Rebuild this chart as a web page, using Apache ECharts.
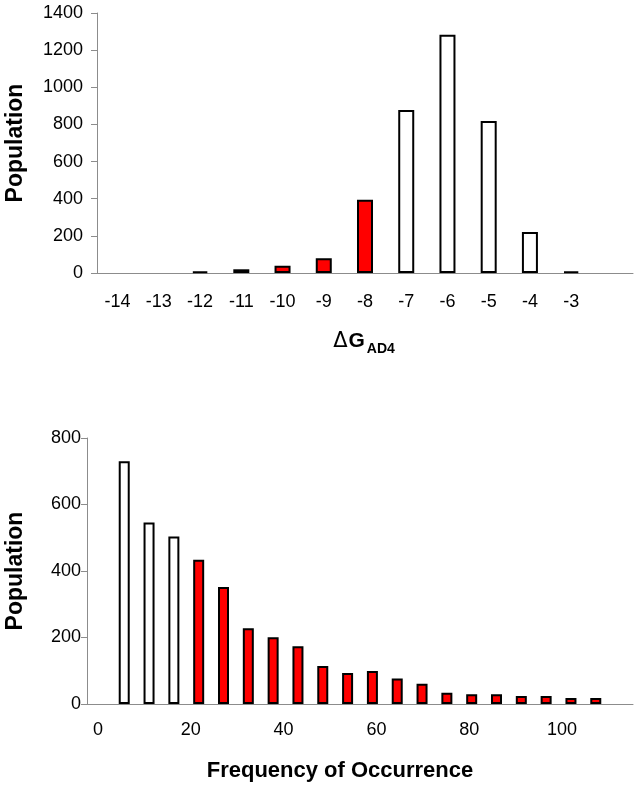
<!DOCTYPE html>
<html>
<head>
<meta charset="utf-8">
<script src="https://cdn.jsdelivr.net/npm/echarts@6/dist/echarts.min.js"></script>
<style>
  html, body { margin: 0; padding: 0; background: #fff; }
  #chart { width: 639px; height: 789px; }
</style>
</head>
<body>
<div id="chart"></div>
<script>
  // top panel: binding energy histogram
  var dgBins = ["-14", "-13", "-12", "-11", "-10", "-9", "-8", "-7", "-6", "-5", "-4", "-3", ""];
  var dgPop = [0, 0, 8, 20, 39, 79, 395, 878, 1283, 818, 221, 9, null];
  var dgTicks = [0, 1400, 200];

  // bottom panel: frequency of occurrence
  var freqBins = [5, 10, 15, 20, 25, 30, 35, 40, 45, 50, 55, 60, 65, 70, 75, 80, 85, 90, 95, 100];
  var freqPop = [730, 546, 504, 434, 352, 228, 201, 174, 114, 93, 99, 77, 61, 34, 29, 29, 24, 24, 18, 18];
  var freqTicks = [0, 800, 200];
  var freqLabels = [0, 100, 20];

  var FONT = "Liberation Sans, Arial, sans-serif";
  var GREY = "#8c8c8c";

  function barItem(v, red) {
    if (!v) return "-"; // empty bins draw nothing
    return {
      value: v,
      itemStyle: { color: red ? "#ff0000" : "#ffffff", borderColor: "#000", borderWidth: 2 }
    };
  }

  var topData = dgPop.map(function (v, i) {
    return barItem(v, dgBins[i] !== "" && Number(dgBins[i]) <= -8);
  });

  // empty category at each end of the frequency axis
  var freqCats = [""].concat(freqBins.map(String), [""]);
  var freqData = ["-"].concat(freqBins.map(function (b, i) {
    return barItem(freqPop[i], b >= 20);
  }), ["-"]);

  var plain = function (v) { return String(v); };

  var chart = echarts.init(document.getElementById("chart"));
  chart.setOption({
    animation: false,
    textStyle: { fontFamily: FONT },
    grid: [
      { left: 97, right: 6, top: 13, height: 260, outerBoundsMode: "none" },
      { left: 87, right: 6, top: 438, height: 266, outerBoundsMode: "none" },
      { left: 98, width: 464, top: 438, height: 266, outerBoundsMode: "none" }
    ],
    xAxis: [
      {
        gridIndex: 0, type: "category", data: dgBins,
        axisLine: { lineStyle: { color: GREY, width: 1 } },
        axisTick: { interval: 0, length: 6, lineStyle: { color: GREY } },
        axisLabel: { interval: 0, color: "#000", fontSize: 18, margin: 20, fontFamily: FONT },
        name: "{d|\u0394}{g|G}{s|AD4}",
        nameLocation: "middle",
        nameGap: 58,
        nameTextStyle: {
          padding: [0, 2, 0, 0],
          rich: {
            d: { fontSize: 21, fontFamily: "DejaVu Sans", color: "#000", padding: [0, 1, 4, 0], verticalAlign: "bottom" },
            g: { fontSize: 21, fontWeight: "bold", fontFamily: FONT, color: "#000", padding: [0, 2, 4, 0], verticalAlign: "bottom" },
            s: { fontSize: 14, fontWeight: "bold", fontFamily: FONT, color: "#000", verticalAlign: "bottom" }
          }
        }
      },
      {
        gridIndex: 1, type: "category", data: freqCats,
        axisLine: { lineStyle: { color: GREY, width: 1 } },
        axisTick: { interval: 0, length: 6, lineStyle: { color: GREY } },
        axisLabel: { show: false },
        name: "Frequency of Occurrence",
        nameLocation: "middle",
        nameGap: 56,
        nameTextStyle: { fontSize: 22, fontWeight: "bold", color: "#000", fontFamily: FONT, padding: [0, 40, 0, 0] }
      },
      {
        gridIndex: 2, type: "value",
        min: freqLabels[0], max: freqLabels[1], interval: freqLabels[2],
        axisLine: { show: false }, axisTick: { show: false }, splitLine: { show: false },
        axisLabel: { color: "#000", fontSize: 18, margin: 17, fontFamily: FONT, formatter: plain }
      }
    ],
    yAxis: [
      {
        gridIndex: 0, type: "value",
        min: dgTicks[0], max: dgTicks[1], interval: dgTicks[2],
        axisLine: { show: true, lineStyle: { color: GREY, width: 1 } },
        axisTick: { show: true, length: 6, lineStyle: { color: GREY } },
        splitLine: { show: false },
        axisLabel: { color: "#000", fontSize: 18, margin: 14, fontFamily: FONT, formatter: plain },
        name: "Population",
        nameLocation: "middle",
        nameRotate: 90,
        nameGap: 70,
        nameTextStyle: { fontSize: 23, fontWeight: "bold", color: "#000", fontFamily: FONT }
      },
      {
        gridIndex: 1, type: "value",
        min: freqTicks[0], max: freqTicks[1], interval: freqTicks[2],
        axisLine: { show: true, lineStyle: { color: GREY, width: 1 } },
        axisTick: { show: true, length: 6, lineStyle: { color: GREY } },
        splitLine: { show: false },
        axisLabel: { color: "#000", fontSize: 18, margin: 6, fontFamily: FONT, formatter: plain },
        name: "Population",
        nameLocation: "middle",
        nameRotate: 90,
        nameGap: 60,
        nameTextStyle: { fontSize: 23, fontWeight: "bold", color: "#000", fontFamily: FONT }
      },
      { gridIndex: 2, type: "value", min: 0, max: 1, show: false }
    ],
    series: [
      {
        type: "bar", xAxisIndex: 0, yAxisIndex: 0,
        data: topData, barWidth: 16
      },
      {
        type: "bar", xAxisIndex: 1, yAxisIndex: 1,
        data: freqData, barWidth: 11
      }
    ]
  });
</script>
</body>
</html>
